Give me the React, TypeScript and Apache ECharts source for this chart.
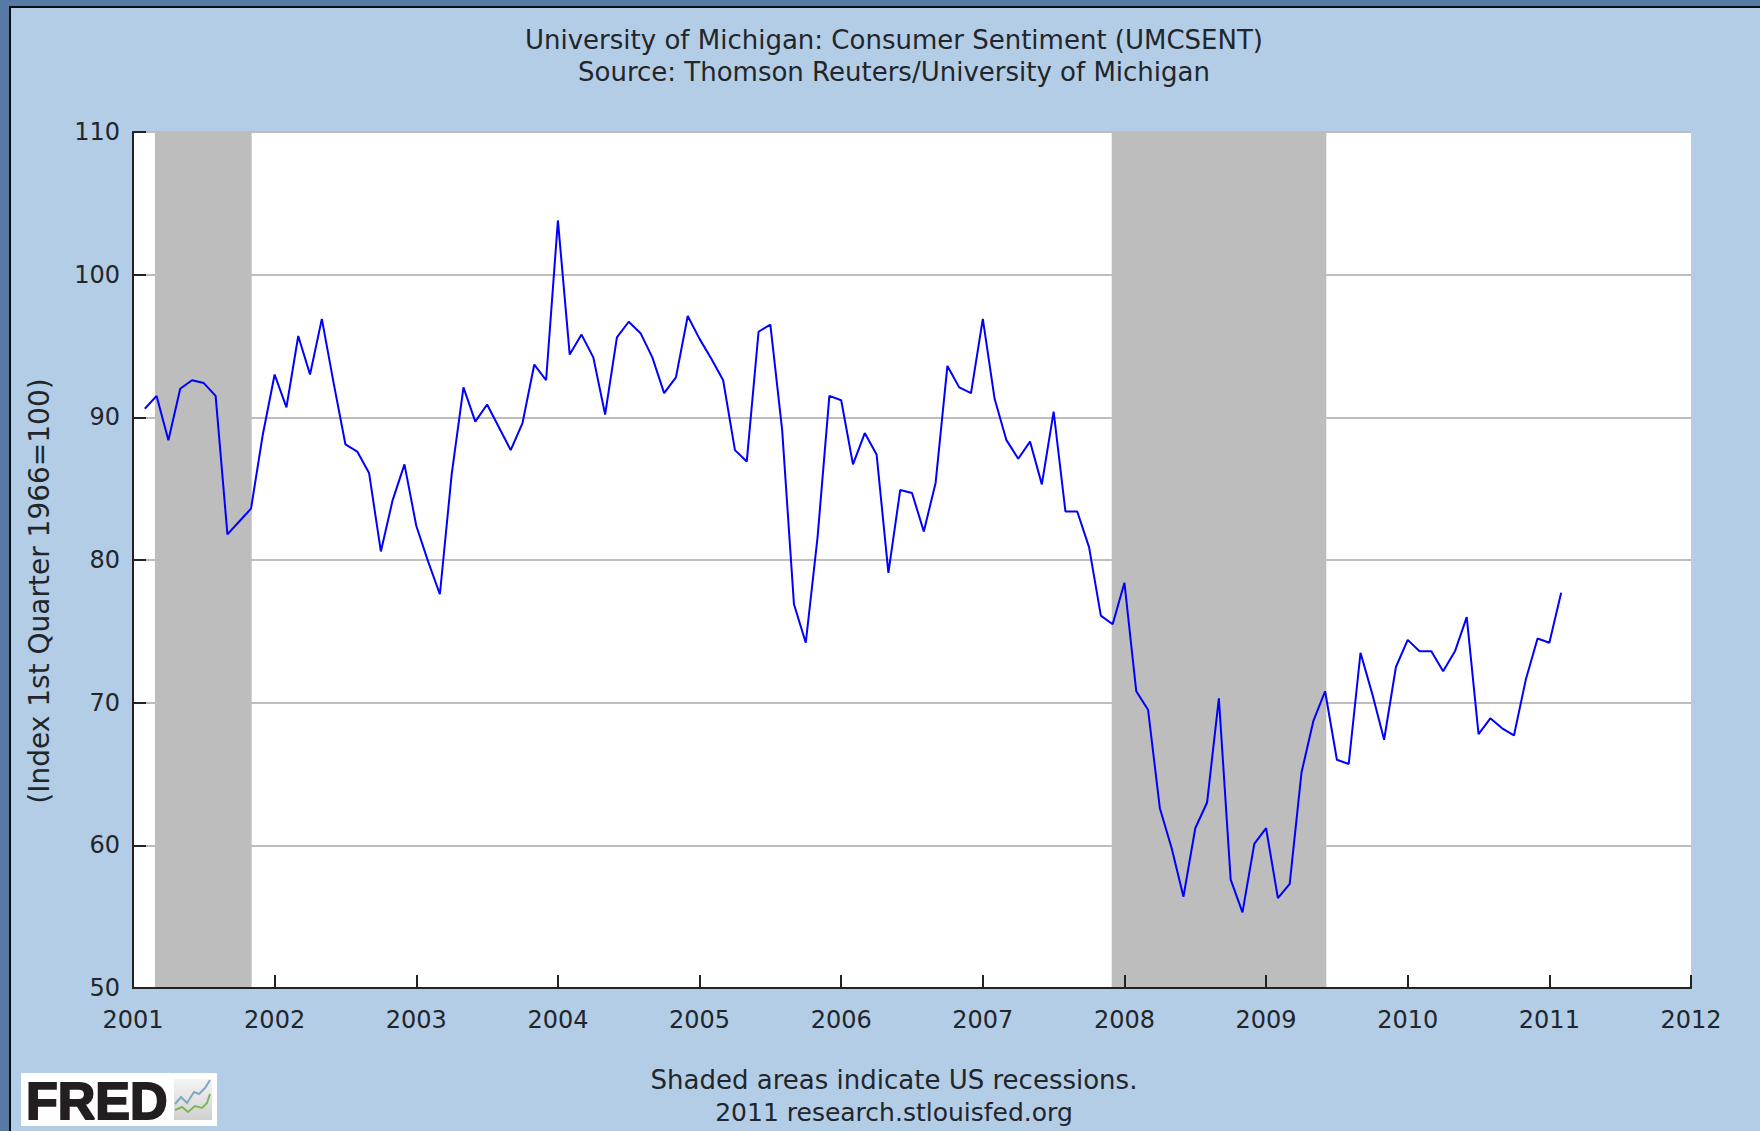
import React, { useEffect, useRef } from "react";
import * as echarts from "echarts";

const titleLines = [
  "University of Michigan: Consumer Sentiment (UMCSENT)",
  "Source: Thomson Reuters/University of Michigan",
];
const footerLines = ["Shaded areas indicate US recessions.", "2011 research.stlouisfed.org"];
const yAxisTitle = "(Index 1st Quarter 1966=100)";
const logoText = "FRED";

const v2001 = [null, 90.6, 91.5, 88.4, 92.0, 92.6, 92.4, 91.5, 81.8, 82.7, 83.6, 88.8];
const v2002 = [93.0, 90.7, 95.7, 93.0, 96.9, 92.4, 88.1, 87.6, 86.1, 80.6, 84.2, 86.7];
const v2003 = [82.4, 79.9, 77.6, 86.0, 92.1, 89.7, 90.9, 89.3, 87.7, 89.6, 93.7, 92.6];
const v2004 = [103.8, 94.4, 95.8, 94.2, 90.2, 95.6, 96.7, 95.9, 94.2, 91.7, 92.8, 97.1];
const v2005 = [95.5, 94.1, 92.6, 87.7, 86.9, 96.0, 96.5, 89.1, 76.9, 74.2, 81.6, 91.5];
const v2006 = [91.2, 86.7, 88.9, 87.4, 79.1, 84.9, 84.7, 82.0, 85.4, 93.6, 92.1, 91.7];
const v2007 = [96.9, 91.3, 88.4, 87.1, 88.3, 85.3, 90.4, 83.4, 83.4, 80.9, 76.1, 75.5];
const v2008 = [78.4, 70.8, 69.5, 62.6, 59.8, 56.4, 61.2, 63.0, 70.3, 57.6, 55.3, 60.1];
const v2009 = [61.2, 56.3, 57.3, 65.1, 68.7, 70.8, 66.0, 65.7, 73.5, 70.6, 67.4, 72.5];
const v2010 = [74.4, 73.6, 73.6, 72.2, 73.6, 76.0, 67.8, 68.9, 68.2, 67.7, 71.6, 74.5];
const v2011 = [74.2, 77.7];
const years = [v2001, v2002, v2003, v2004, v2005, v2006, v2007, v2008, v2009, v2010, v2011];

const recessions = [
  [2001.155, 2001.838],
  [2007.91, 2009.425],
];

const sentiment: [number, number][] = [];
years.forEach((vals, yi) =>
  vals.forEach((v, mi) => {
    if (v !== null) sentiment.push([2001 + yi + mi / 12, v as number]);
  })
);

const FONT = "'DejaVu Sans'";
const TEXT = "#22262b";
const PANEL = "#b3cde6";
const OUTER = "#567aa3";

export default function App() {
  const ref = useRef<HTMLDivElement>(null);
  useEffect(() => {
    document.body.style.margin = "0";
    document.documentElement.style.overflow = "hidden";
    const chart = echarts.init(ref.current!, null, { renderer: "svg" });
    const titleBase = { left: 889, textAlign: "center" as const };
    const textStyle = { fontFamily: FONT, fontSize: 26, fontWeight: "normal" as const, color: TEXT };
    chart.setOption({
      animation: false,
      backgroundColor: PANEL,
      title: [
        { ...titleBase, top: 22, text: titleLines[0], textStyle },
        { ...titleBase, top: 54, text: titleLines[1], textStyle },
        { ...titleBase, top: 1062, text: footerLines[0], textStyle },
        { ...titleBase, top: 1095, text: footerLines[1], textStyle: { ...textStyle, fontSize: 25 } },
      ],
      grid: {
        show: true,
        left: 133,
        top: 132,
        width: 1558,
        height: 856,
        backgroundColor: "#ffffff",
        borderWidth: 0,
        containLabel: false,
      },
      xAxis: {
        type: "value",
        min: 2001,
        max: 2012,
        interval: 1,
        z: 3,
        splitLine: { show: false },
        axisLine: { show: true, lineStyle: { color: "#222", width: 2 } },
        axisTick: { show: true, inside: true, length: 13, lineStyle: { color: "#222", width: 2 } },
        axisLabel: {
          margin: 20,
          fontFamily: FONT,
          fontSize: 24,
          color: TEXT,
          showMinLabel: true,
          showMaxLabel: true,
          formatter: (v: number) => String(v),
        },
      },
      yAxis: {
        type: "value",
        min: 50,
        max: 110,
        interval: 10,
        splitLine: { show: true, lineStyle: { color: "#bdbdbd", width: 2 } },
        axisLine: { show: true, lineStyle: { color: "#222", width: 2 } },
        axisTick: { show: true, inside: true, length: 13, lineStyle: { color: "#222", width: 2 } },
        axisLabel: { margin: 13, padding: [2, 0, 0, 0], fontFamily: FONT, fontSize: 24, color: TEXT },
      },
      series: [
        {
          type: "line",
          z: 5,
          data: sentiment,
          showSymbol: false,
          symbol: "none",
          lineStyle: { color: "#0000ff", width: 2 },
          markArea: {
            silent: true,
            z: 1,
            itemStyle: { color: "#bdbdbd", opacity: 1 },
            data: recessions.map(([a, b]) => [{ xAxis: a }, { xAxis: b }]),
          },
        },
      ],
      graphic: [
        { type: "rect", z: 10, shape: { x: 0, y: 0, width: 1760, height: 6 }, style: { fill: OUTER } },
        { type: "rect", z: 10, shape: { x: 0, y: 0, width: 9, height: 1131 }, style: { fill: OUTER } },
        { type: "rect", z: 11, shape: { x: 9, y: 6, width: 1751, height: 2 }, style: { fill: "#0b0f14" } },
        { type: "rect", z: 11, shape: { x: 9, y: 6, width: 2, height: 1125 }, style: { fill: "#0b0f14" } },
        {
          type: "text",
          z: 12,
          x: 39,
          y: 591,
          rotation: Math.PI / 2,
          style: {
            text: yAxisTitle,
            fontFamily: FONT,
            fontSize: 28,
            fill: TEXT,
            align: "center",
            verticalAlign: "middle",
          },
        },
        { type: "rect", z: 12, shape: { x: 21, y: 1073, width: 196, height: 53 }, style: { fill: "#ffffff" } },
        {
          type: "text",
          z: 13,
          x: 26,
          y: 1075,
          style: {
            text: logoText,
            fontFamily: "'Liberation Sans'",
            fontWeight: "bold",
            fontSize: 52,
            fill: "#231f20",
            stroke: "#231f20",
            lineWidth: 2,
          },
        },
        {
          type: "rect",
          z: 13,
          shape: { x: 174, y: 1079, width: 38, height: 41 },
          style: {
            fill: new echarts.graphic.LinearGradient(0, 0, 0, 1, [
              { offset: 0, color: "#f4f4f3" },
              { offset: 1, color: "#cfd1d0" },
            ]),
          },
        },
        {
          type: "polyline",
          z: 14,
          shape: { points: [[175, 1104], [181, 1097], [187, 1103], [194, 1092], [199, 1094], [205, 1088], [210, 1080]] },
          style: { stroke: "#7fa7c4", lineWidth: 2, fill: "none" },
        },
        {
          type: "polyline",
          z: 14,
          shape: { points: [[175, 1110], [182, 1107], [188, 1112], [195, 1106], [202, 1108], [207, 1103], [210, 1094]] },
          style: { stroke: "#7fb65a", lineWidth: 2, fill: "none" },
        },
      ],
    });
    return () => chart.dispose();
  }, []);
  return <div ref={ref} style={{ position: "absolute", left: 0, top: 0, width: 1760, height: 1131 }} />;
}
